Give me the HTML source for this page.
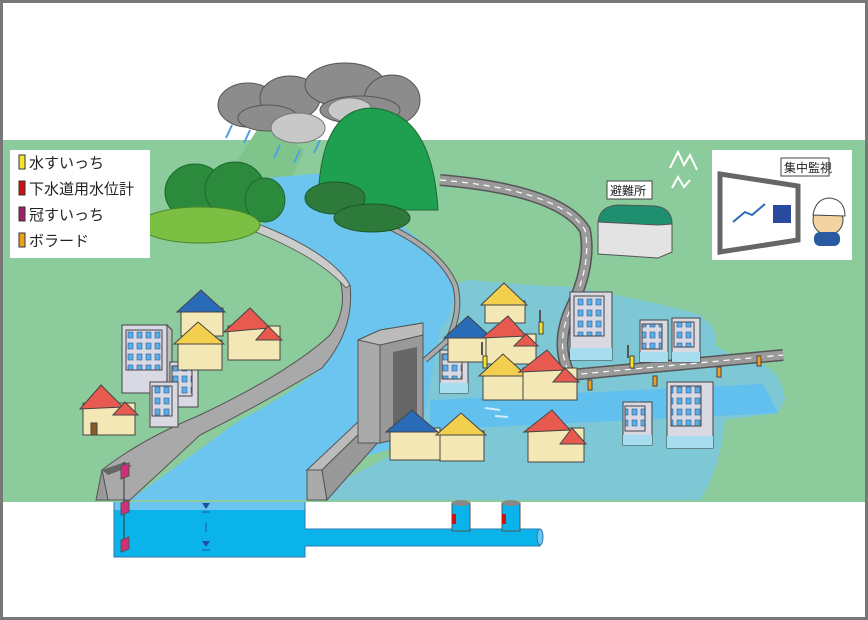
<!DOCTYPE html>
<html><head><meta charset="utf-8"><style>
html,body{margin:0;padding:0;background:#fff}
svg{display:block}
text{font-family:"Liberation Sans","Noto Sans CJK JP",sans-serif}
</style></head><body>
<svg width="868" height="620" viewBox="0 0 868 620" xmlns="http://www.w3.org/2000/svg">
<defs>
<pattern id="win" x="0" y="0" width="9" height="11" patternUnits="userSpaceOnUse"><rect x="2" y="2" width="5" height="6" fill="#5aaee8" stroke="#2a5a90" stroke-width="0.6"/></pattern>
</defs>
<rect x="0" y="0" width="868" height="620" fill="#fff"/>
<rect x="1.5" y="1.5" width="865" height="617" fill="none" stroke="#777" stroke-width="3"/>
<rect x="3" y="140" width="862" height="362" fill="#8ccb9c"/>
<path d="M225 180 L262 122 L305 150 L285 190 Z" fill="#7fc48b"/>
<!-- flood area -->
<path d="M440 300 Q450 282 470 280 Q520 285 570 287 Q650 300 700 315 Q720 330 715 345 L740 360 Q780 360 785 400 L778 413 L725 420 Q720 470 700 500 L305 500 L420 440 Z" fill="#7ec8d6"/>
<path d="M430 400 L763 384 L778 413 L430 430 Z" fill="#62c0ee"/>
<g stroke="#cdeefa" stroke-width="2"><line x1="485" y1="408" x2="500" y2="410"/><line x1="495" y1="416" x2="508" y2="417"/><line x1="625" y1="404" x2="640" y2="402"/></g>
<!-- river -->
<path d="M262 232 Q330 262 348 290 Q352 330 320 370 Q280 400 240 420 L130 500 L305 500 L320 470 L420 440 L440 330 Q460 300 450 280 Q430 240 380 212 Q330 190 323 173 L268 178 Q265 210 262 232 Z" fill="#6cc5ef"/>
<!-- right bank levee -->
<path d="M385 225 Q440 250 455 285 Q462 310 448 340 L425 360" fill="none" stroke="#555" stroke-width="6"/>
<path d="M385 225 Q440 250 455 285 Q462 310 448 340 L425 360" fill="none" stroke="#aaa" stroke-width="4"/>
<!-- left levee -->
<path d="M258 224 Q330 252 350 285 Q355 330 322 368 Q260 405 200 435 L130 500 L108 500 L102 470 Q140 440 200 415 Q290 372 330 335 Q348 310 340 280 Q320 255 256 232 Z" fill="#a9a9a9" stroke="#555" stroke-width="1"/>
<path d="M258 224 Q330 252 350 285 L346 288 Q320 258 256 232 Z" fill="#ccc" stroke="#555" stroke-width="0.8"/>
<path d="M102 470 L96 500 L108 500 Z" fill="#999" stroke="#555"/>
<path d="M102 470 L125 462 L132 466 L108 475 Z" fill="#666"/>
<!-- right wall -->
<path d="M307 470 L307 500 L327 500 L322 470 Z" fill="#aaa" stroke="#555"/>
<path d="M307 470 L322 470 L365 428 L360 420 Z" fill="#bbb" stroke="#555"/>
<path d="M322 470 L327 500 L380 440 L365 428 Z" fill="#999" stroke="#555"/>
<!-- gate -->
<path d="M358 340 L380 330 L423 323 L423 433 L380 443 L358 443 Z" fill="#aaa" stroke="#555"/>
<path d="M380 345 L423 335 L423 433 L380 443 Z" fill="#999" stroke="#555"/>
<path d="M393 352 L417 347 L417 430 L393 435 Z" fill="#666"/>
<path d="M358 340 L380 345 L423 335 L423 323 L380 330 Z" fill="#bbb" stroke="#555"/>
<!-- road -->
<path d="M440 180 Q560 190 585 230 Q592 265 570 310 Q555 345 570 375 L783 355" fill="none" stroke="#555" stroke-width="12"/>
<path d="M440 180 Q560 190 585 230 Q592 265 570 310 Q555 345 570 375 L783 355" fill="none" stroke="#9a9a9a" stroke-width="9"/>
<path d="M440 180 Q560 190 585 230 Q592 265 570 310 Q555 345 570 375 L783 355" fill="none" stroke="#fff" stroke-width="1.2" stroke-dasharray="6 5"/>
<!-- clouds -->
<g fill="#8c8c8c" stroke="#555">
<ellipse cx="248" cy="105" rx="30" ry="22"/><ellipse cx="290" cy="98" rx="30" ry="22"/><ellipse cx="268" cy="118" rx="30" ry="13"/>
<ellipse cx="345" cy="85" rx="40" ry="22"/><ellipse cx="392" cy="100" rx="28" ry="25"/><ellipse cx="360" cy="110" rx="40" ry="14"/>
</g>
<g fill="#c8c8c8" stroke="#777"><ellipse cx="298" cy="128" rx="27" ry="15"/><ellipse cx="350" cy="110" rx="22" ry="12"/></g>
<g stroke="#4aa3e0" stroke-width="2"><line x1="232" y1="125" x2="226" y2="138"/><line x1="250" y1="130" x2="244" y2="143"/><line x1="280" y1="145" x2="274" y2="158"/><line x1="300" y1="150" x2="294" y2="163"/><line x1="320" y1="140" x2="314" y2="153"/></g>
<!-- mountains -->
<path d="M318 210 Q318 110 370 108 Q432 110 438 210 Z" fill="#1fa050" stroke="#1c6a30"/>
<g fill="#2e7a3a" stroke="#1c5a28"><ellipse cx="335" cy="198" rx="30" ry="16"/><ellipse cx="372" cy="218" rx="38" ry="14"/></g>
<g fill="#2b8a3c" stroke="#1c6a30"><ellipse cx="195" cy="192" rx="30" ry="28"/><ellipse cx="235" cy="190" rx="30" ry="28"/><ellipse cx="265" cy="200" rx="20" ry="22"/></g>
<ellipse cx="200" cy="225" rx="60" ry="18" fill="#7cc043" stroke="#4a8a2a"/>
<!-- buildings -->
<g stroke="#444" stroke-width="1">
<g><rect x="122" y="325" width="45" height="68" fill="#d9d9e3"/><rect x="126" y="330" width="36" height="40" fill="url(#win)"/><path d="M167 325 L172 330 L172 395 L167 393 Z" fill="#bbb"/></g>
<g><rect x="170" y="362" width="28" height="45" fill="#d9d9e3"/><rect x="172" y="366" width="20" height="30" fill="url(#win)"/></g>
<g><rect x="150" y="382" width="28" height="45" fill="#d9d9e3"/><rect x="152" y="386" width="20" height="30" fill="url(#win)"/></g>
<g><rect x="570" y="292" width="42" height="68" fill="#d9d9e3"/><rect x="574" y="296" width="30" height="40" fill="url(#win)"/><rect x="570" y="348" width="42" height="12" fill="#a8dcef" stroke="none"/></g>
<g><rect x="640" y="320" width="28" height="42" fill="#d9d9e3"/><rect x="642" y="324" width="20" height="25" fill="url(#win)"/><rect x="640" y="352" width="28" height="10" fill="#a8dcef" stroke="none"/></g>
<g><rect x="672" y="318" width="28" height="44" fill="#d9d9e3"/><rect x="674" y="322" width="20" height="25" fill="url(#win)"/><rect x="672" y="352" width="28" height="10" fill="#a8dcef" stroke="none"/></g>
<g><rect x="440" y="350" width="28" height="43" fill="#d9d9e3"/><rect x="442" y="354" width="20" height="25" fill="url(#win)"/><rect x="440" y="383" width="28" height="10" fill="#a8dcef" stroke="none"/></g>
<g><rect x="667" y="382" width="46" height="66" fill="#d9d9e3"/><rect x="671" y="386" width="30" height="40" fill="url(#win)"/><rect x="667" y="436" width="46" height="12" fill="#a8dcef" stroke="none"/></g>
<g><rect x="623" y="402" width="29" height="43" fill="#d9d9e3"/><rect x="625" y="406" width="20" height="25" fill="url(#win)"/><rect x="623" y="435" width="29" height="10" fill="#a8dcef" stroke="none"/></g>
</g>
<!-- houses -->
<g stroke="#444" stroke-width="1">
<g transform="translate(83,385)"><rect x="0" y="18" width="52" height="32" fill="#f3e7b5"/><path d="M-3 24 L18 0 L40 22 Z" fill="#e85a4f"/><path d="M30 30 L42 17 L55 30 Z" fill="#e85a4f"/><rect x="8" y="38" width="6" height="12" fill="#8a5a2a"/></g>
<g transform="translate(181,290)"><rect x="0" y="18" width="42" height="28" fill="#f3e7b5"/><path d="M-4 22 L20 0 L44 22 Z" fill="#2a6bb8"/></g>
<g transform="translate(178,322)"><rect x="0" y="18" width="44" height="30" fill="#f3e7b5"/><path d="M-4 22 L20 0 L46 22 Z" fill="#f2d04e"/></g>
<g transform="translate(228,308)"><rect x="0" y="18" width="52" height="34" fill="#f3e7b5"/><path d="M-4 24 L22 0 L42 20 Z" fill="#e85a4f"/><path d="M28 32 L40 18 L54 32 Z" fill="#e85a4f"/></g>
<g transform="translate(485,283)"><rect x="0" y="18" width="40" height="22" fill="#f3e7b5"/><path d="M-4 22 L19 0 L42 22 Z" fill="#f2d04e"/></g>
<g transform="translate(448,316)"><rect x="0" y="18" width="44" height="28" fill="#f3e7b5"/><path d="M-4 22 L20 0 L44 22 Z" fill="#2a6bb8"/></g>
<g transform="translate(486,316)"><rect x="0" y="18" width="50" height="30" fill="#f3e7b5"/><path d="M-4 22 L22 0 L40 20 Z" fill="#e85a4f"/><path d="M28 30 L40 18 L52 30 Z" fill="#e85a4f"/></g>
<g transform="translate(483,354)"><rect x="0" y="18" width="46" height="28" fill="#f3e7b5"/><path d="M-4 22 L20 0 L44 22 Z" fill="#f2d04e"/></g>
<g transform="translate(523,350)"><rect x="0" y="18" width="54" height="32" fill="#f3e7b5"/><path d="M-4 22 L24 0 L42 20 Z" fill="#e85a4f"/><path d="M30 32 L42 18 L56 32 Z" fill="#e85a4f"/></g>
<g transform="translate(390,410)"><rect x="0" y="18" width="50" height="32" fill="#f3e7b5"/><path d="M-4 22 L22 0 L48 22 Z" fill="#2a6bb8"/></g>
<g transform="translate(440,413)"><rect x="0" y="18" width="44" height="30" fill="#f3e7b5"/><path d="M-4 22 L21 0 L46 22 Z" fill="#f2d04e"/></g>
<g transform="translate(528,410)"><rect x="0" y="18" width="56" height="34" fill="#f3e7b5"/><path d="M-4 22 L24 0 L42 20 Z" fill="#e85a4f"/><path d="M32 34 L44 18 L58 34 Z" fill="#e85a4f"/></g>
</g>
<g stroke="#555" stroke-width="2"><line x1="540" y1="310" x2="540" y2="322"/><line x1="628" y1="345" x2="628" y2="358"/><line x1="482" y1="342" x2="482" y2="355"/></g>
<g fill="#f0a020" stroke="#444"><rect x="588" y="380" width="4" height="10"/><rect x="653" y="376" width="4" height="10"/><rect x="717" y="367" width="4" height="10"/><rect x="757" y="356" width="4" height="10"/></g>
<g fill="#f5e52a" stroke="#444"><rect x="539" y="322" width="4" height="12"/><rect x="630" y="356" width="4" height="12"/><rect x="483" y="356" width="4" height="12"/></g>
<!-- underground -->
<rect x="3" y="502" width="862" height="58" fill="#fff"/>
<rect x="114" y="502" width="191" height="8" fill="#6cc5ef"/>
<rect x="114" y="510" width="191" height="47" fill="#0ab4ea"/>
<rect x="305" y="529" width="235" height="17" fill="#0ab4ea"/>
<path d="M114 502 L114 557 L305 557 L305 546 L540 546 L540 529 L305 529 L305 502" fill="none" stroke="#2a7ab0" stroke-width="1"/>
<ellipse cx="540" cy="537" rx="3" ry="8" fill="#6cc5ef" stroke="#2a7ab0"/>
<g><rect x="452" y="503" width="18" height="28" fill="#0ab4ea" stroke="#555"/><ellipse cx="461" cy="503" rx="9" ry="3" fill="#888"/><rect x="452" y="514" width="4" height="10" fill="#d01010"/>
<rect x="502" y="503" width="18" height="28" fill="#0ab4ea" stroke="#555"/><ellipse cx="511" cy="503" rx="9" ry="3" fill="#888"/><rect x="502" y="514" width="4" height="10" fill="#d01010"/></g>
<line x1="124" y1="462" x2="124" y2="548" stroke="#333"/>
<g fill="#d0307a" stroke="#555"><path d="M121 466 L129 463 L129 476 L121 479 Z"/><path d="M121 503 L129 500 L129 512 L121 515 Z"/><path d="M121 540 L129 537 L129 549 L121 552 Z"/></g>
<g fill="#2050a0"><path d="M202 503 L210 503 L206 509 Z"/><path d="M202 541 L210 541 L206 547 Z"/></g>
<g stroke="#2050a0"><line x1="202" y1="512" x2="210" y2="512"/><line x1="202" y1="550" x2="210" y2="550"/><line x1="206" y1="523" x2="206" y2="532"/></g>
<!-- legend -->
<rect x="10" y="150" width="140" height="108" fill="#fff"/>
<g stroke="#333" stroke-width="1"><rect x="19" y="155" width="6" height="14" fill="#f5e52a"/><rect x="19" y="181" width="6" height="14" fill="#d01010"/><rect x="19" y="207" width="6" height="14" fill="#a0206a"/><rect x="19" y="233" width="6" height="14" fill="#f0a020"/></g>
<g font-size="15" fill="#222"><text x="29" y="168">水すいっち</text><text x="29" y="194">下水道用水位計</text><text x="29" y="220">冠すいっち</text><text x="29" y="246">ボラード</text></g>
<path d="M670 168 L678 152 L684 165 L690 155 L697 170 M672 188 L678 177 L684 187 L690 180" fill="none" stroke="#fff" stroke-width="2"/>
<!-- shelter -->
<rect x="607" y="181" width="45" height="18" fill="#fff" stroke="#444"/><text x="610" y="195" font-size="12" fill="#222">避難所</text>
<path d="M598 222 L598 254 L658 258 L672 252 L672 222 Z" fill="#e3e3e3" stroke="#555"/>
<path d="M598 222 Q600 205 620 205 L655 206 Q672 208 672 224 L658 225 Z" fill="#1e9070" stroke="#555"/>
<!-- panel -->
<rect x="712" y="150" width="140" height="110" fill="#fff"/>
<path d="M720 174 L798 186 L798 240 L720 252 Z" fill="#fff" stroke="#666" stroke-width="5"/>
<polyline points="733,222 745,212 752,215 765,204" fill="none" stroke="#2a6bb8" stroke-width="2"/>
<rect x="773" y="205" width="18" height="18" fill="#2a4aa0"/>
<rect x="781" y="158" width="48" height="18" fill="#fff" stroke="#444"/><text x="784" y="172" font-size="12" fill="#222">集中監視</text>
<circle cx="828" cy="220" r="15" fill="#f3d3a0" stroke="#444"/><path d="M813 215 Q816 198 830 198 Q845 200 845 216 Z" fill="#fff" stroke="#444"/>
<rect x="814" y="232" width="26" height="14" rx="6" fill="#2a5aa0"/>
</svg>
</body></html>
